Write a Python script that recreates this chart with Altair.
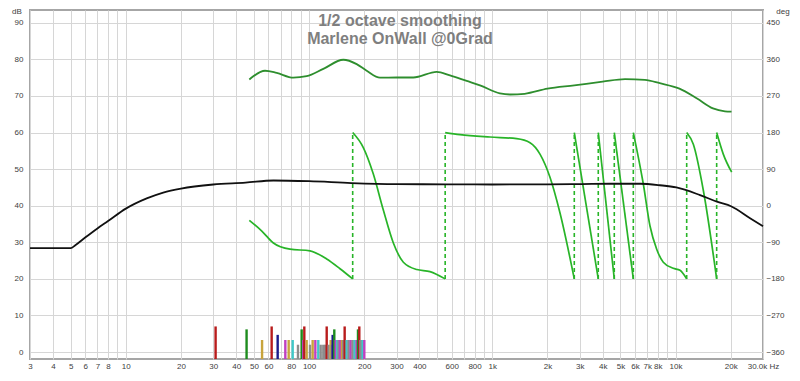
import altair as alt
import pandas as pd

# ---------------- data ----------------
# SPL (black), dB
spl_f = [3, 5, 5.3, 6, 7, 8, 10, 13, 16, 20, 30, 45, 64, 100, 170, 300, 560, 1000, 2000,
         3000, 4400, 6400, 8200, 10100, 13600, 16800, 20200, 25500, 30000]
spl_db = [28.4, 28.4, 29.2, 31.3, 33.8, 35.8, 39.2, 42.0, 43.6, 44.7, 45.8, 46.3, 46.9, 46.7,
          46.2, 45.9, 45.85, 45.8, 45.85, 45.9, 46.0, 46.0, 45.6, 45.0, 42.9, 41.1, 39.8, 36.6, 34.4]

# dark green upper curve, dB
top_f = [47.2, 57.5, 66.6, 82, 97, 119.6, 153.8, 181.9, 206.3, 243.8, 300.8, 370.7, 497, 587.7,
         724.8, 856.5, 1100, 1250, 1500, 2000, 2800, 4000, 5300, 6800, 8200, 10500, 13100,
         16000, 18600, 20200]
top_db = [74.5, 76.9, 76.3, 75.0, 75.4, 77.4, 79.9, 78.7, 76.9, 75.0, 75.05, 75.05, 76.6, 75.6,
          74.1, 72.9, 70.7, 70.4, 70.6, 72.0, 72.9, 73.9, 74.6, 74.4, 73.5, 72.0, 69.3,
          66.6, 65.8, 65.7]

# wrapped phase (light green), degrees, by segment
phase_f = [47.2, 55.4, 63.6, 78.7, 101.2, 124.8, 147.5, 173,
           173, 197.7, 224, 254, 288, 327, 387, 457, 553,
           553, 666, 971, 1358, 1606, 1820, 2064, 2341, 2801,
           2801, 3786,
           3786, 4630,
           4630, 5881,
           5881, 6665, 7253, 7889, 8570, 9718, 10570, 11500,
           11500, 12500, 14170, 16760,
           16760, 18210, 20240]
phase_deg = [-36, -63, -91, -107, -111, -131, -155, -180,
             180, 143, 78.5, -10, -91, -139, -157, -162, -180,
             180, 175, 169, 165, 155, 127, 70, -18, -180,
             180, -180,
             180, -180,
             180, -180,
             180, 54, -50, -107, -139, -154, -159, -180,
             180, 151, 38, -180,
             180, 127, 82.5]
phase_seg = [0] * 8 + [1] * 9 + [2] * 9 + [3] * 2 + [4] * 2 + [5] * 2 + [6] * 8 + [7] * 4 + [8] * 3
wrap_f = [173, 553, 2801, 3786, 4630, 5881, 11500, 16760]

# mode bars at the bottom
bar_f = [30.9, 45.6, 55.4, 62.5, 67.4, 74.2, 77.4, 81.4, 87.0, 91.1, 93.0, 94.2, 97.0, 101.2,
         104.6, 108.2, 112.3, 115.7, 119.6, 122.5, 124.8, 127.9, 131.2, 133.0, 134.5, 137.3,
         139.7, 142.6, 145.0, 147.5, 151.2, 153.8, 156.4, 160.4, 164.4, 168.6, 172.9, 177.3,
         181.8, 184.9, 188.0, 190.5, 192.8, 196.0, 200.2]
bar_type = ["r", "g", "y", "r", "b", "m", "y", "c", "k", "g", "m", "r", "y", "k",
            "y", "m", "c", "k", "k", "k", "r", "k", "y", "k", "b", "g",
            "m", "c", "k", "m", "y", "k", "r", "c", "k", "m", "k", "c",
            "m", "g", "r", "k", "k", "c", "m"]
bar_h = [7.0, 6.2, 3.3, 7.0, 4.7, 3.3, 3.3, 3.3, 2.0, 6.2, 3.3, 7.0, 3.3, 2.0,
         3.3, 3.3, 3.3, 2.0, 2.0, 2.0, 7.0, 2.0, 3.3, 2.0, 4.7, 6.2,
         3.3, 3.3, 3.3, 3.3, 3.3, 3.3, 7.0, 3.3, 3.3, 3.3, 3.3, 3.3,
         3.3, 6.2, 7.0, 3.3, 3.3, 3.3, 3.3]

grid_f = [3, 4, 5, 6, 7, 8, 9, 10, 20, 30, 40, 50, 60, 70, 80, 90, 100, 200, 300, 400, 500,
          600, 700, 800, 900, 1000, 2000, 3000, 4000, 5000, 6000, 7000, 8000, 9000, 10000,
          20000, 30000]
label_f = [3, 4, 5, 6, 7, 8, 10, 20, 30, 40, 50, 60, 80, 100, 200, 300, 400, 600, 800, 1000,
           2000, 3000, 4000, 5000, 6000, 7000, 8000, 10000, 20000, 30000]

title_lines = ["1/2 octave smoothing", "Marlene OnWall @0Grad"]

# ---------------- chart ----------------
W, H = 733, 349
DB_LO, DB_HI = -1.9, 93.5
FONT = "Liberation Sans"
LBL = "#404040"
GRID = "#d6d6d6"

xs = alt.Scale(type="log", domain=[3, 30000], nice=False)
ydb = alt.Scale(domain=[DB_LO, DB_HI], nice=False, zero=False)
ydeg = alt.Scale(domain=[(DB_LO - 40) * 9, (DB_HI - 40) * 9], nice=False, zero=False)

lab_arr = "[" + ",".join(str(v) for v in label_f) + "]"
xax = alt.Axis(
    values=grid_f, grid=True, gridColor=GRID, gridWidth=1, ticks=False, domain=False,
    labelFont=FONT, labelFontSize=8, labelColor=LBL, labelPadding=3,
    labelOverlap=False, labelFlush=False, labelBound=False, title=None,
    labelExpr=("indexof(" + lab_arr + ", datum.value) < 0 ? '' : "
               "(datum.value >= 30000 ? '30,0k Hz' : (datum.value >= 1000 ? "
               "(datum.value/1000) + 'k' : '' + datum.value))"),
)
yax_left = alt.Axis(values=list(range(0, 100, 10)), grid=True, gridColor=GRID, ticks=False,
                    domain=False, labelFont=FONT, labelFontSize=8, labelColor=LBL,
                    labelPadding=7, title=None)
yax_right = alt.Axis(orient="right", values=list(range(-360, 451, 90)), grid=False, ticks=False,
                     domain=False, labelFont=FONT, labelFontSize=8, labelColor=LBL,
                     labelPadding=3, title=None)

spl_df = pd.DataFrame({"f": spl_f, "v": spl_db})
top_df = pd.DataFrame({"f": top_f, "v": top_db})
ph_df = pd.DataFrame({"f": phase_f, "v": phase_deg, "seg": phase_seg})
wrap_df = pd.DataFrame({"f": wrap_f})
bar_df = pd.DataFrame({"f": bar_f, "t": bar_type, "h": bar_h})

bars = alt.Chart(bar_df).mark_rule(strokeWidth=2.4).encode(
    x=alt.X("f:Q", scale=xs, axis=xax),
    y=alt.Y("h:Q", scale=ydb, axis=yax_left),
    y2=alt.value(H),
    color=alt.Color("t:N", legend=None, scale=alt.Scale(
        domain=["r", "g", "y", "b", "m", "c", "k"],
        range=["#b81c1c", "#1e8c1e", "#c8a43c", "#1c1c8c", "#c040c0", "#40c8c8", "#8c8c8c"])),
)

wraps = alt.Chart(wrap_df).mark_rule(strokeWidth=1.6, strokeDash=[4, 3], color="#28b428").encode(
    x=alt.X("f:Q", scale=xs, axis=xax),
    y=alt.YDatum(-180, scale=ydeg, axis=yax_right),
    y2=alt.Y2Datum(180),
)

phase = alt.Chart(ph_df).mark_line(strokeWidth=1.7, color="#28b428", interpolate="monotone").encode(
    x=alt.X("f:Q", scale=xs, axis=xax),
    y=alt.Y("v:Q", scale=ydeg, axis=None),
    detail="seg:N",
)

top = alt.Chart(top_df).mark_line(strokeWidth=1.8, color="#2e8e2e", interpolate="monotone").encode(
    x=alt.X("f:Q", scale=xs, axis=xax),
    y=alt.Y("v:Q", scale=ydb, axis=None),
)

spl = alt.Chart(spl_df).mark_line(strokeWidth=1.8, color="#111111", interpolate="monotone").encode(
    x=alt.X("f:Q", scale=xs, axis=xax),
    y=alt.Y("v:Q", scale=ydb, axis=None),
)

t1 = alt.Chart(pd.DataFrame({"t": [title_lines[0]]})).mark_text(
    font=FONT, fontSize=16, fontWeight="bold", color="#7f7f7f", align="center", baseline="middle"
).encode(text="t:N", x=alt.value(370), y=alt.value(11))
t2 = alt.Chart(pd.DataFrame({"t": [title_lines[1]]})).mark_text(
    font=FONT, fontSize=16, fontWeight="bold", color="#7f7f7f", align="center", baseline="middle"
).encode(text="t:N", x=alt.value(370), y=alt.value(28.5))
u1 = alt.Chart(pd.DataFrame({"t": ["dB"]})).mark_text(
    font=FONT, fontSize=8, color=LBL, align="center", baseline="top"
).encode(text="t:N", x=alt.value(-13), y=alt.value(-2))
u2 = alt.Chart(pd.DataFrame({"t": ["deg"]})).mark_text(
    font=FONT, fontSize=8, color=LBL, align="center", baseline="top"
).encode(text="t:N", x=alt.value(W + 20), y=alt.value(-2))

chart = alt.layer(bars, wraps, phase, top, spl, t1, t2, u1, u2).resolve_scale(
    y="independent"
).properties(
    width=W, height=H,
    padding={"left": 22, "top": 2, "right": 29, "bottom": 10},
    autosize=alt.AutoSizeParams(type="none"),
    background="white",
).configure_view(stroke="#a6a6a6", strokeWidth=2)

chart.save("out.html", embed_options={"renderer": "svg", "actions": False})
